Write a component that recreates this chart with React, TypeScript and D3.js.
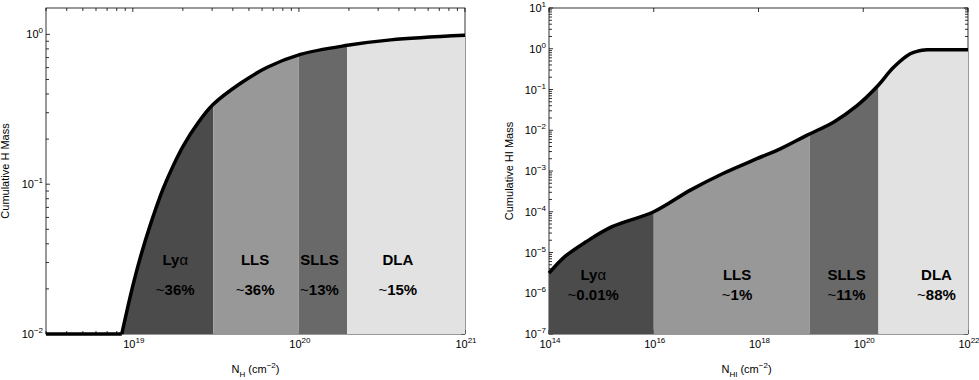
import React from 'react';
import * as d3 from 'd3';

// ---- data ----
// left panel: cumulative total H mass vs N_H (values below 1e-2 sit on the axis)
const hColumn = [3e18, 8.5e18, 8.58e18, 9.86e18, 1.102e19, 1.267e19, 1.518e19, 1.745e19, 2.005e19, 2.47e19, 3.04e19, 4.43e19, 6.45e19, 1.02e20, 1.96e20, 3.57e20, 1e21];
const hMass = [0.001, 0.001, 0.01, 0.0197, 0.0316, 0.0525, 0.0926, 0.132, 0.179, 0.257, 0.34, 0.47, 0.603, 0.735, 0.845, 0.919, 0.985];
const hEdges = [3e18, 3.05e19, 1.0e20, 1.95e20, 1e21];
const hPercents = ['~36%', '~36%', '~13%', '~15%'];
const hLabelAt = [1.8e19, 5.45e19, 1.33e20, 3.94e20];

// right panel: cumulative HI mass vs N_HI
const hiColumn = [1e14, 2e14, 5e14, 1.6e15, 1e16, 5e16, 2.1e17, 9.3e17, 2.6e18, 8.5e18, 2.75e19, 7.6e19, 1.86e20, 3.8e20, 7.9e20, 1.12e21, 1.66e21, 3e21, 1e22];
const hiMass = [3.1e-6, 7.9e-6, 1.8e-5, 4.3e-5, 1.0e-4, 3.4e-4, 8.7e-4, 2.0e-3, 3.5e-3, 7.6e-3, 1.6e-2, 4.0e-2, 1.2e-1, 3.5e-1, 0.75, 0.88, 0.94, 0.95, 0.95];
const hiEdges = [1e14, 1e16, 9.5e18, 1.95e20, 1e22];
const hiPercents = ['~0.01%', '~1%', '~11%', '~88%'];
const hiLabelAt = [7e14, 3.9e17, 4.8e19, 2.5e21];

const classes = ['Ly', 'LLS', 'SLLS', 'DLA'];
const fills = ['#4b4b4b', '#989898', '#696969', '#e2e2e2'];

const font = 'Liberation Sans, Arial, Helvetica, sans-serif';

function Pow({ x, y, exp, anchor }) {
  return (
    <text x={x} y={y} textAnchor={anchor} fontSize={11} fontFamily={font} fill="#000">
      10<tspan dy={-5} fontSize={8}>{exp}</tspan>
    </text>
  );
}

function Panel(props) {
  const { left, right, top, bottom, xDomain, yDomain, xs, ys, edges, percents, labelAt,
          labelY, xMajorStep, sub, yTitle, yTitleX, xTitleShift, id } = props;

  const x = d3.scaleLog().domain(xDomain).range([left, right]);
  const y = d3.scaleLog().domain(yDomain).range([bottom, top]).clamp(true);

  // points on the axis floor are drawn as a straight run, the rest smoothed
  const floor = [];
  const pts = [];
  xs.forEach((v, i) => {
    if (ys[i] < yDomain[0]) floor.push([x(v), bottom]);
    else pts.push([x(v), y(ys[i])]);
  });
  if (floor.length) floor.push(pts[0]);

  const smooth = d3.curveCatmullRom.alpha(0.5);
  const line = d3.line().curve(smooth);
  const area = d3.area().curve(smooth).y0(bottom).x(d => d[0]).y1(d => d[1]);

  const hi = Math.round(Math.log10(xDomain[1]));
  const xMajor = d3.range(Math.ceil(Math.log10(xDomain[0]) - 1e-9), hi + 1, xMajorStep);
  const xMinor = [];
  if (xMajorStep === 1) {
    for (let e = Math.floor(Math.log10(xDomain[0])); e < hi; e++)
      for (let k = 2; k < 10; k++) {
        const v = k * 10 ** e;
        if (v >= xDomain[0] && v <= xDomain[1]) xMinor.push(v);
      }
  }
  const yLo = Math.round(Math.log10(yDomain[0]));
  const yHi = Math.floor(Math.log10(yDomain[1]) + 1e-9);
  const yMajor = d3.range(yLo, yHi + 1);
  const yMinor = [];
  for (let e = yLo; e <= yHi; e++)
    for (let k = 2; k < 10; k++) {
      const v = k * 10 ** e;
      if (v <= yDomain[1]) yMinor.push(v);
    }

  const big = 4, small = 3;

  return (
    <g>
      <defs>
        {edges.slice(0, -1).map((e, i) => (
          <clipPath id={`${id}-c${i}`} key={i}>
            <rect x={x(e)} y={top} width={x(edges[i + 1]) - x(e)} height={bottom - top} />
          </clipPath>
        ))}
      </defs>
      {/* ticks and box */}
      <g stroke="#000" strokeWidth={0.8}>
        {xMajor.map(e => (
          <g key={'xm' + e}>
            <line x1={x(10 ** e)} x2={x(10 ** e)} y1={bottom} y2={bottom - big} />
            <line x1={x(10 ** e)} x2={x(10 ** e)} y1={top} y2={top + big} />
          </g>
        ))}
        {xMinor.map(v => (
          <g key={'xn' + v}>
            <line x1={x(v)} x2={x(v)} y1={bottom} y2={bottom - small} />
            <line x1={x(v)} x2={x(v)} y1={top} y2={top + small} />
          </g>
        ))}
        {yMajor.map(e => (
          <g key={'ym' + e}>
            <line x1={left} x2={left + big} y1={y(10 ** e)} y2={y(10 ** e)} />
            <line x1={right} x2={right - big} y1={y(10 ** e)} y2={y(10 ** e)} />
          </g>
        ))}
        {yMinor.map(v => (
          <g key={'yn' + v}>
            <line x1={left} x2={left + small} y1={y(v)} y2={y(v)} />
            <line x1={right} x2={right - small} y1={y(v)} y2={y(v)} />
          </g>
        ))}
        <rect x={left} y={top} width={right - left} height={bottom - top} fill="none" />
      </g>

      {/* shaded column-density classes */}
      {fills.map((c, i) => (
        <path key={i} d={area(pts)} fill={c} clipPath={`url(#${id}-c${i})`} />
      ))}

      {floor.length ? <path d={d3.line()(floor)} fill="none" stroke="#000" strokeWidth={3.5} /> : null}
      <path d={line(pts)} fill="none" stroke="#000" strokeWidth={3.5} strokeLinejoin="round" />

      {/* class labels */}
      {classes.map((name, i) => (
        <g key={name} fontFamily={font} fontSize={15} fontWeight="bold" textAnchor="middle" fill="#000">
          <text x={x(labelAt[i])} y={y(labelY[0]) + 5}>
            {name}{i === 0 ? <tspan fontWeight="normal">α</tspan> : null}
          </text>
          <text x={x(labelAt[i])} y={y(labelY[1]) + 5}>
            <tspan fontWeight="normal">~</tspan>{percents[i].slice(1)}
          </text>
        </g>
      ))}

      {/* tick labels */}
      {xMajor.map(e => (
        <Pow key={'xl' + e} x={x(10 ** e) + 1} y={bottom + 14} exp={String(e)} anchor="middle" />
      ))}
      {yMajor.map(e => (
        <Pow key={'yl' + e} x={left - 3} y={y(10 ** e) + 4} exp={e < 0 ? '\u2212' + (-e) : String(e)} anchor="end" />
      ))}

      <text x={(left + right) / 2 + xTitleShift} y={bottom + 39} textAnchor="middle" fontSize={11} fontFamily={font}>
        N<tspan dy={4} fontSize={8}>{sub}</tspan><tspan dy={-4}> (cm</tspan><tspan dy={-5} fontSize={8}>{'\u22122'}</tspan><tspan dy={5}>)</tspan>
      </text>
      <text transform={`translate(${yTitleX},${(top + bottom) / 2}) rotate(-90)`} textAnchor="middle"
            fontSize={11} fontFamily={font}>{yTitle}</text>
    </g>
  );
}

export default function App() {
  return (
    <svg width={979} height={380} style={{ position: 'absolute', left: 0, top: 0, background: '#fff' }}>
      <Panel id="h" left={46} right={465} top={8} bottom={334}
             xDomain={[3e18, 1e21]} yDomain={[0.01, 1.5]} xs={hColumn} ys={hMass}
             edges={hEdges} percents={hPercents} labelAt={hLabelAt} labelY={[0.031, 0.0197]}
             xMajorStep={1} sub="H" yTitle="Cumulative H Mass" yTitleX={9} xTitleShift={0} />
      <Panel id="hi" left={549} right={968} top={8} bottom={334}
             xDomain={[1e14, 1e22]} yDomain={[1e-7, 10]} xs={hiColumn} ys={hiMass}
             edges={hiEdges} percents={hiPercents} labelAt={hiLabelAt} labelY={[2.8e-6, 9.1e-7]}
             xMajorStep={2} sub="HI" yTitle="Cumulative HI Mass" yTitleX={513} xTitleShift={-12} />
    </svg>
  );
}
